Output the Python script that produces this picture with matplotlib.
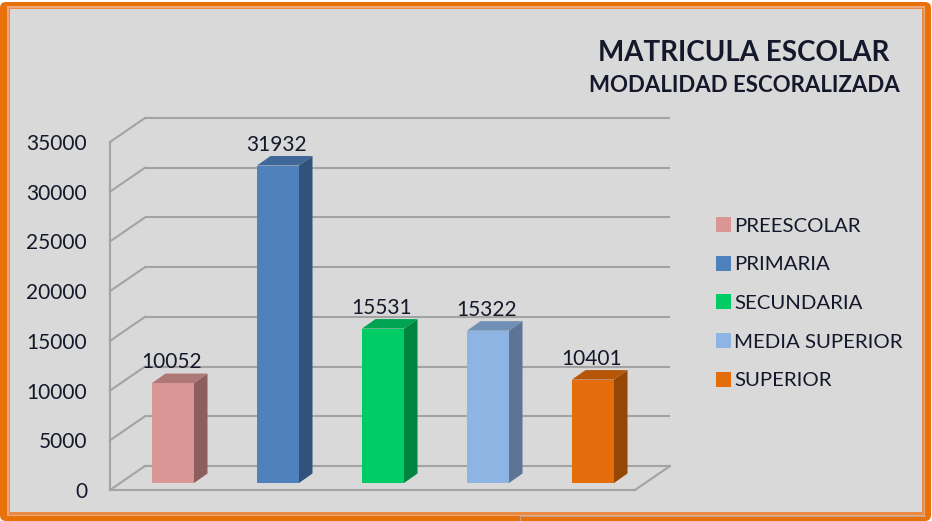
import matplotlib
matplotlib.use("Agg")
import matplotlib.pyplot as plt
from matplotlib.lines import Line2D
from matplotlib.patches import FancyBboxPatch, Patch, Polygon, Rectangle
from matplotlib.transforms import Affine2D, IdentityTransform

W, H = 932, 521

CATEGORIES = ["PREESCOLAR", "PRIMARIA", "SECUNDARIA", "MEDIA SUPERIOR", "SUPERIOR"]
VALUES = [10052, 31932, 15531, 15322, 10401]
Y_TICKS = [0, 5000, 10000, 15000, 20000, 25000, 30000, 35000]

FRONT_COLORS = ["#d99694", "#4f81bd", "#00cc66", "#8eb4e3", "#e46c0a"]
SIDE_COLORS = ["#8c5f5e", "#31527b", "#008540", "#5c7596", "#954706"]
TOP_COLORS = ["#ae7876", "#3f6797", "#00a352", "#7190b6", "#b65608"]

BG = "#d9d9d9"
ORANGE = "#e8710a"
GRID = "#a3a3a3"
TEXT = "#14182a"

FONT = "Lato"
BAR_WIDTH = 0.4
# pixel offsets of the fake 3D depth
WALL_DEPTH = (35, 24)
BAR_FRONT = (10.5, 7)
BAR_BACK = (24, 16.5)


def px_box(x0, y0, x1, y1):
    """Image pixel box (y down) to display coordinates (y up)."""
    return x0, H - y1, x1 - x0, y1 - y0


def draw_frame(fig):
    px = IdentityTransform()
    x, y, w, h = px_box(0, 2, 931, 521)
    fig.add_artist(FancyBboxPatch((x + 4, y + 4), w - 8, h - 8, boxstyle="round,pad=4,rounding_size=6",
                                  fc=ORANGE, ec="none", transform=px, zorder=-5))
    for box, color in [((7, 6, 925, 516), "#f0a878"),
                       ((8.5, 7.5, 923.5, 514.5), "#e98a45"),
                       ((10, 9, 922, 512), BG)]:
        x, y, w, h = px_box(*box)
        fig.add_artist(Rectangle((x, y), w, h, fc=color, ec="none", transform=px, zorder=-4))
    # thin mark left in the bottom border of the original
    fig.add_artist(Line2D([520, 520, 925], [0, H - 516, H - 516], color="#b8a596", lw=0.7,
                          transform=px, zorder=-3))


def shifted(ax, offset):
    return ax.transData + Affine2D().translate(*offset)


def draw_walls(ax):
    back = shifted(ax, WALL_DEPTH)
    x0, x1 = ax.get_xlim()
    ax.hlines(Y_TICKS, x0, x1, colors=GRID, lw=1.5, transform=back, zorder=1, clip_on=False)
    for v in Y_TICKS:
        p0 = ax.transData.transform((x0, v))
        p1 = p0 + WALL_DEPTH
        ax.plot([p0[0], p1[0]], [p0[1], p1[1]], color=GRID, lw=1.5, transform=IdentityTransform(),
                zorder=1, clip_on=False)
    p0 = ax.transData.transform((x1, 0))
    p1 = p0 + WALL_DEPTH
    ax.plot([p0[0], p1[0]], [p0[1], p1[1]], color=GRID, lw=1.5, transform=IdentityTransform(),
            zorder=1, clip_on=False)


def draw_bars(ax):
    px = IdentityTransform()
    ax.bar(range(len(VALUES)), VALUES, width=BAR_WIDTH, color=FRONT_COLORS,
           transform=shifted(ax, BAR_FRONT), zorder=4, clip_on=False)

    for i, value in enumerate(VALUES):
        bl = ax.transData.transform((i + BAR_WIDTH / 2, 0))
        tr = ax.transData.transform((i + BAR_WIDTH / 2, value))
        tl = ax.transData.transform((i - BAR_WIDTH / 2, value))
        f, b = BAR_FRONT, BAR_BACK
        side = [bl + f, tr + f, tr + b, bl + b]
        top = [tl + f, tr + f, tr + b, tl + b]
        ax.add_patch(Polygon(side, fc=SIDE_COLORS[i], ec="none", transform=px, zorder=3, clip_on=False))
        ax.add_patch(Polygon(top, fc=TOP_COLORS[i], ec="none", transform=px, zorder=3, clip_on=False))
        ax.annotate(str(value), (i, value), xytext=(BAR_FRONT[0] - 1.5, BAR_FRONT[1] + 21),
                    textcoords="offset pixels", ha="center", va="center",
                    fontsize=15, color=TEXT, family=FONT, zorder=5, annotation_clip=False)


def main():
    fig = plt.figure(figsize=(W / 100, H / 100), dpi=100, facecolor="white")
    draw_frame(fig)

    ax = fig.add_axes([110 / W, (H - 490) / H, 525 / W, 348 / H])
    ax.patch.set_visible(False)
    ax.set_xlim(-0.5, len(VALUES) - 0.5)
    ax.set_ylim(0, 35000)

    for side in ["top", "right"]:
        ax.spines[side].set_visible(False)
    for side in ["left", "bottom"]:
        ax.spines[side].set_color(GRID)
        ax.spines[side].set_linewidth(1.5)

    ax.set_xticks([])
    ax.set_yticks(Y_TICKS)
    ax.set_yticklabels([str(v) for v in Y_TICKS], fontsize=15, color=TEXT, family=FONT)
    ax.tick_params(axis="y", length=0, pad=16.5)

    draw_walls(ax)
    draw_bars(ax)
    ax.set_xlim(-0.5, len(VALUES) - 0.5)
    ax.set_ylim(0, 35000)

    fig.text(744 / W, 1 - 53 / H, "MATRICULA ESCOLAR", ha="center", va="center",
             fontsize=20, fontweight="bold", color=TEXT, family=FONT)
    fig.text(744 / W, 1 - 85 / H, "MODALIDAD ESCORALIZADA", ha="center", va="center",
             fontsize=16, fontweight="bold", color=TEXT, family=FONT)

    handles = [Patch(fc=c, ec="none", label=n) for c, n in zip(FRONT_COLORS, CATEGORIES)]
    fig.legend(handles=handles, loc="upper left", bbox_to_anchor=(712 / W, 1 - 213 / H),
               frameon=False, handlelength=0.75, handleheight=0.75, handletextpad=0.15,
               labelspacing=1.03, borderpad=0.2, borderaxespad=0,
               prop={"family": FONT, "size": 14.7}, labelcolor=TEXT)

    fig.savefig("out.png", dpi=100, facecolor="white")
    plt.close(fig)


if __name__ == "__main__":
    main()
